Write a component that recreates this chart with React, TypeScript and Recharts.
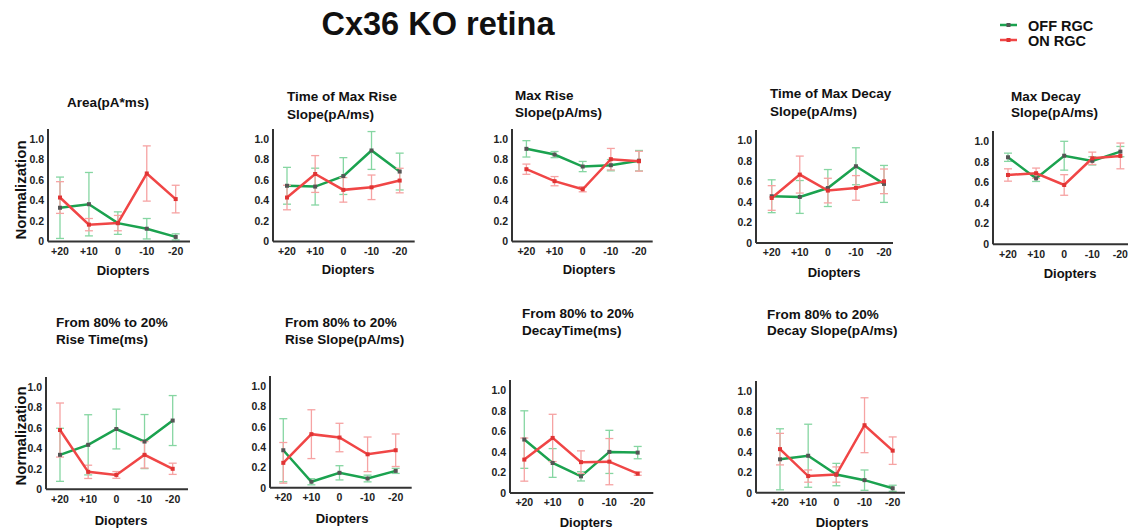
import React from 'react';
import { LineChart, Line, XAxis, YAxis, ErrorBar } from 'recharts';

const diopters = ['+20', '+10', '0', '-10', '-20'];

// Area(pA*ms)
const areaOff = [0.33, 0.365, 0.18, 0.125, 0.045];
const areaOffErr = [0.3, 0.31, 0.11, 0.1, 0.03];
const areaOn = [0.43, 0.165, 0.18, 0.665, 0.415];
const areaOnErr = [0.155, 0.06, 0.075, 0.27, 0.135];

// Time of Max Rise Slope
const tRiseOff = [0.545, 0.537, 0.64, 0.89, 0.684];
const tRiseOffErr = [0.18, 0.18, 0.18, 0.185, 0.18];
const tRiseOn = [0.43, 0.66, 0.505, 0.53, 0.596];
const tRiseOnErr = [0.12, 0.18, 0.12, 0.12, 0.12];

// Max Rise Slope
const maxRiseOff = [0.906, 0.85, 0.733, 0.746, 0.79];
const maxRiseOffErr = [0.08, 0.03, 0.05, 0.055, 0.1];
const maxRiseOn = [0.707, 0.59, 0.511, 0.805, 0.785];
const maxRiseOnErr = [0.05, 0.045, 0.025, 0.105, 0.097];

// Time of Max Decay Slope
const tDecayOff = [0.455, 0.448, 0.535, 0.747, 0.575];
const tDecayOffErr = [0.16, 0.16, 0.18, 0.18, 0.18];
const tDecayOn = [0.438, 0.666, 0.51, 0.536, 0.6];
const tDecayOnErr = [0.12, 0.18, 0.12, 0.12, 0.12];

// Max Decay Slope
const maxDecayOff = [0.845, 0.64, 0.86, 0.81, 0.9];
const maxDecayOffErr = [0.04, 0.03, 0.14, 0.04, 0.05];
const maxDecayOn = [0.673, 0.69, 0.576, 0.835, 0.858];
const maxDecayOnErr = [0.06, 0.05, 0.1, 0.06, 0.125];

// From 80% to 20% Rise Time
const riseTimeOff = [0.337, 0.435, 0.59, 0.467, 0.673];
const riseTimeOffErr = [0.26, 0.295, 0.195, 0.265, 0.245];
const riseTimeOn = [0.58, 0.17, 0.14, 0.337, 0.2];
const riseTimeOnErr = [0.265, 0.065, 0.033, 0.13, 0.055];

// From 80% to 20% Rise Slope
const riseSlopeOff = [0.37, 0.06, 0.148, 0.092, 0.167];
const riseSlopeOffErr = [0.31, 0.03, 0.07, 0.033, 0.025];
const riseSlopeOn = [0.246, 0.528, 0.495, 0.33, 0.37];
const riseSlopeOnErr = [0.2, 0.24, 0.14, 0.17, 0.16];

// From 80% to 20% DecayTime
const decayTimeOff = [0.52, 0.292, 0.162, 0.4, 0.393];
const decayTimeOffErr = [0.28, 0.14, 0.045, 0.21, 0.06];
const decayTimeOn = [0.325, 0.536, 0.3, 0.305, 0.188];
const decayTimeOnErr = [0.21, 0.23, 0.11, 0.225, 0.016];

// From 80% to 20% Decay Slope
const decaySlopeOff = [0.33, 0.365, 0.18, 0.125, 0.045];
const decaySlopeOffErr = [0.3, 0.31, 0.11, 0.1, 0.03];
const decaySlopeOn = [0.43, 0.165, 0.18, 0.665, 0.415];
const decaySlopeOnErr = [0.155, 0.06, 0.075, 0.27, 0.135];

const GREEN = '#1ba24f';
const GREEN_ERR = '#86d6a2';
const RED = '#f04646';
const RED_ERR = '#f6a3a3';
const AXIS = '#333';

const FONT = '"Liberation Sans", Arial, sans-serif';
const TITLE = 13.5;

const squareDot = (fill: string) => (p: any) =>
  <rect key={p.index} x={p.cx - 2} y={p.cy - 2} width={4} height={4} fill={fill} />;

const Text = ({ x, y, size, children, center = false, rotate = false }: any) => (
  <div
    style={{
      position: 'absolute',
      left: x,
      top: y,
      fontSize: size,
      fontWeight: 700,
      lineHeight: 1,
      whiteSpace: 'nowrap',
      color: '#111',
      transform: `translate(${center ? '-50%' : '0'}, -50%)${rotate ? ' rotate(-90deg)' : ''}`,
    }}
  >
    {children}
  </div>
);

const Panel = ({ ax, y0, unit, xEnd, c1, c5, off, offErr, on, onErr }: any) => {
  const data = diopters.map((d, i) => ({
    d,
    off: off[i],
    offErr: offErr[i],
    on: on[i],
    onErr: onErr[i],
  }));
  const top = 6;
  const yw = 36;
  const xh = 24;
  const plotH = 1.1 * unit;
  const w = yw + (xEnd - ax) + 4;
  const h = top + plotH + xh;
  return (
    <div style={{ position: 'absolute', left: ax - yw, top: y0 - plotH - top }}>
      <LineChart width={w} height={h} data={data} margin={{ top, right: 4, left: 0, bottom: 0 }}>
        <XAxis
          dataKey="d"
          height={xh}
          padding={{ left: c1 - ax, right: xEnd - c5 }}
          axisLine={{ stroke: AXIS, strokeWidth: 2 }}
          tickLine={false}
          tickSize={0}
          tickMargin={6}
          tick={{ fontSize: 10.5, fontWeight: 700, fill: '#222' }}
        />
        <YAxis
          width={yw}
          domain={[0, 1.1]}
          ticks={[0, 0.2, 0.4, 0.6, 0.8, 1]}
          allowDataOverflow
          axisLine={{ stroke: AXIS, strokeWidth: 2 }}
          tickLine={false}
          tickSize={0}
          tickMargin={4}
          tickFormatter={(v: number) => (v === 0 ? '0' : v.toFixed(1))}
          tick={{ fontSize: 10.5, fontWeight: 700, fill: '#222' }}
        />
        <Line
          dataKey="off"
          stroke={GREEN}
          strokeWidth={2.5}
          dot={squareDot('#555')}
          isAnimationActive={false}
        >
          <ErrorBar dataKey="offErr" width={4} stroke={GREEN_ERR} strokeWidth={1.3} />
        </Line>
        <Line
          dataKey="on"
          stroke={RED}
          strokeWidth={2.5}
          dot={squareDot('#e03434')}
          isAnimationActive={false}
        >
          <ErrorBar dataKey="onErr" width={4} stroke={RED_ERR} strokeWidth={1.3} />
        </Line>
      </LineChart>
    </div>
  );
};

export default function App() {
  return (
    <div
      style={{
        position: 'absolute',
        left: 0,
        top: 0,
        width: 1128,
        height: 531,
        overflow: 'hidden',
        background: '#fff',
        fontFamily: FONT,
      }}
    >
      <Text x={438} y={24} size={32.5} center>Cx36 KO retina</Text>

      <svg style={{ position: 'absolute', left: 998, top: 18 }} width={22} height={30}>
        <line x1={2} y1={7} x2={19} y2={7} stroke={GREEN} strokeWidth={2.5} />
        <rect x={8.5} y={5} width={4} height={4} fill="#555" />
        <line x1={2} y1={22} x2={19} y2={22} stroke={RED} strokeWidth={2.5} />
        <rect x={8.5} y={20} width={4} height={4} fill="#e03434" />
      </svg>
      <Text x={1028} y={26} size={14.5}>OFF RGC</Text>
      <Text x={1028} y={41} size={14.5}>ON RGC</Text>

      {/* top row */}
      <Panel ax={48} y0={241.7} unit={102.3} xEnd={190} c1={60} c5={175.7}
        off={areaOff} offErr={areaOffErr} on={areaOn} onErr={areaOnErr} />
      <Text x={108} y={103} size={TITLE} center>Area(pA*ms)</Text>
      <Text x={123} y={270} size={13} center>Diopters</Text>
      <Text x={20} y={190} size={15} center rotate>Normalization</Text>

      <Panel ax={273.3} y0={241.7} unit={102.3} xEnd={415} c1={287.3} c5={400}
        off={tRiseOff} offErr={tRiseOffErr} on={tRiseOn} onErr={tRiseOnErr} />
      <Text x={287} y={97} size={TITLE}>Time of Max Rise</Text>
      <Text x={287} y={115} size={TITLE}>Slope(pA/ms)</Text>
      <Text x={348} y={269} size={13} center>Diopters</Text>

      <Panel ax={512.3} y0={241.7} unit={102.3} xEnd={653} c1={526.7} c5={639.3}
        off={maxRiseOff} offErr={maxRiseOffErr} on={maxRiseOn} onErr={maxRiseOnErr} />
      <Text x={515} y={96} size={TITLE}>Max Rise</Text>
      <Text x={515} y={113} size={TITLE}>Slope(pA/ms)</Text>
      <Text x={589} y={269} size={13} center>Diopters</Text>

      <Panel ax={756} y0={243.3} unit={102.7} xEnd={893} c1={771.7} c5={884}
        off={tDecayOff} offErr={tDecayOffErr} on={tDecayOn} onErr={tDecayOnErr} />
      <Text x={770} y={94} size={TITLE}>Time of Max Decay</Text>
      <Text x={770} y={112} size={TITLE}>Slope(pA/ms)</Text>
      <Text x={834} y={272} size={13} center>Diopters</Text>

      <Panel ax={993.3} y0={244.3} unit={103} xEnd={1136} c1={1008.3} c5={1120.7}
        off={maxDecayOff} offErr={maxDecayOffErr} on={maxDecayOn} onErr={maxDecayOnErr} />
      <Text x={1011} y={97} size={TITLE}>Max Decay</Text>
      <Text x={1011} y={113} size={TITLE}>Slope(pA/ms)</Text>
      <Text x={1070} y={273} size={13} center>Diopters</Text>

      {/* bottom row */}
      <Panel ax={46} y0={489.3} unit={102} xEnd={188} c1={60} c5={172.7}
        off={riseTimeOff} offErr={riseTimeOffErr} on={riseTimeOn} onErr={riseTimeOnErr} />
      <Text x={56} y={323} size={TITLE}>From 80% to 20%</Text>
      <Text x={56} y={340} size={TITLE}>Rise Time(ms)</Text>
      <Text x={121} y={520} size={13} center>Diopters</Text>
      <Text x={20} y={436} size={15} center rotate>Normalization</Text>

      <Panel ax={270} y0={487.7} unit={101.7} xEnd={411.7} c1={283.3} c5={395.7}
        off={riseSlopeOff} offErr={riseSlopeOffErr} on={riseSlopeOn} onErr={riseSlopeOnErr} />
      <Text x={285} y={323} size={TITLE}>From 80% to 20%</Text>
      <Text x={285} y={340} size={TITLE}>Rise Slope(pA/ms)</Text>
      <Text x={342} y={518} size={13} center>Diopters</Text>

      <Panel ax={510} y0={492.7} unit={102.7} xEnd={653.3} c1={524.3} c5={637.7}
        off={decayTimeOff} offErr={decayTimeOffErr} on={decayTimeOn} onErr={decayTimeOnErr} />
      <Text x={522} y={314} size={TITLE}>From 80% to 20%</Text>
      <Text x={522} y={331} size={TITLE}>DecayTime(ms)</Text>
      <Text x={586} y={522} size={13} center>Diopters</Text>

      <Panel ax={756} y0={493.3} unit={101.7} xEnd={905} c1={780} c5={892.7}
        off={decaySlopeOff} offErr={decaySlopeOffErr} on={decaySlopeOn} onErr={decaySlopeOnErr} />
      <Text x={767} y={315} size={TITLE}>From 80% to 20%</Text>
      <Text x={767} y={331} size={TITLE}>Decay Slope(pA/ms)</Text>
      <Text x={842} y={522} size={13} center>Diopters</Text>
    </div>
  );
}
